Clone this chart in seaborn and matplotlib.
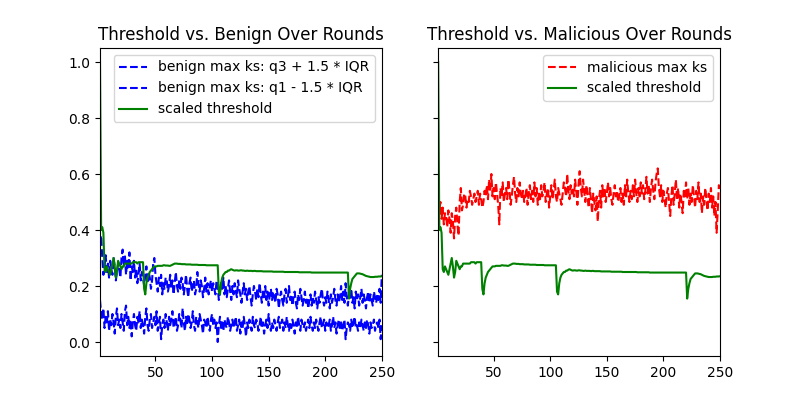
import numpy as np
import pandas as pd
import seaborn as sns
import matplotlib
matplotlib.use("Agg")
import matplotlib.pyplot as plt

# rounds 1..250
rounds = list(range(1, 251))

# scaled threshold (same in both panels)
threshold = [
    1.00, 0.40, 0.41, 0.39, 0.26, 0.25, 0.27, 0.26, 0.25, 0.24,
    0.26, 0.28, 0.30, 0.27, 0.23, 0.25, 0.29, 0.28, 0.27, 0.26,
    0.27, 0.27, 0.28, 0.28, 0.28, 0.28, 0.28, 0.28, 0.28, 0.285,
    0.285, 0.285, 0.285, 0.28, 0.285, 0.285, 0.285, 0.285, 0.285, 0.19,
    0.17, 0.21, 0.23, 0.24, 0.25, 0.255, 0.26, 0.265, 0.27, 0.27,
    0.27, 0.272, 0.272, 0.272, 0.272, 0.272, 0.274, 0.274, 0.273, 0.273,
    0.273, 0.272, 0.272, 0.274, 0.276, 0.278, 0.28, 0.28, 0.28, 0.279,
    0.279, 0.279, 0.278, 0.278, 0.278, 0.278, 0.277, 0.277, 0.277, 0.277,
    0.277, 0.276, 0.276, 0.276, 0.276, 0.276, 0.276, 0.275, 0.275, 0.275,
    0.275, 0.275, 0.275, 0.275, 0.274, 0.274, 0.274, 0.274, 0.274, 0.274,
    0.274, 0.274, 0.274, 0.274, 0.274, 0.18, 0.17, 0.21, 0.23, 0.24,
    0.245, 0.25, 0.25, 0.255, 0.255, 0.258, 0.26, 0.258, 0.256, 0.255,
    0.256, 0.256, 0.255, 0.255, 0.256, 0.256, 0.255, 0.255, 0.254, 0.254,
    0.255, 0.254, 0.254, 0.254, 0.254, 0.253, 0.254, 0.254, 0.253, 0.253,
    0.253, 0.253, 0.253, 0.253, 0.252, 0.252, 0.252, 0.252, 0.252, 0.252,
    0.252, 0.252, 0.252, 0.251, 0.251, 0.251, 0.251, 0.251, 0.251, 0.251,
    0.251, 0.251, 0.251, 0.25, 0.25, 0.25, 0.25, 0.25, 0.25, 0.25,
    0.25, 0.25, 0.25, 0.25, 0.25, 0.25, 0.249, 0.249, 0.249, 0.249,
    0.249, 0.249, 0.249, 0.249, 0.249, 0.249, 0.249, 0.248, 0.248, 0.248,
    0.248, 0.248, 0.248, 0.248, 0.248, 0.248, 0.248, 0.248, 0.248, 0.248,
    0.248, 0.248, 0.248, 0.248, 0.248, 0.248, 0.248, 0.248, 0.248, 0.248,
    0.248, 0.248, 0.248, 0.248, 0.248, 0.248, 0.248, 0.248, 0.248, 0.248,
    0.155, 0.19, 0.21, 0.225, 0.23, 0.235, 0.24, 0.245, 0.245, 0.245,
    0.244, 0.243, 0.242, 0.24, 0.238, 0.236, 0.235, 0.234, 0.233, 0.232,
    0.232, 0.232, 0.232, 0.233, 0.233, 0.233, 0.234, 0.234, 0.234, 0.235,
]

benign_upper = [
    0.35, 0.38, 0.30, 0.24, 0.27, 0.31, 0.25, 0.28, 0.23, 0.29,
    0.26, 0.24, 0.30, 0.27, 0.22, 0.25, 0.28, 0.26, 0.23, 0.30,
    0.33, 0.27, 0.31, 0.24, 0.29, 0.26, 0.32, 0.22, 0.27, 0.25,
    0.29, 0.23, 0.26, 0.21, 0.24, 0.28, 0.22, 0.25, 0.23, 0.20,
    0.24, 0.27, 0.21, 0.25, 0.23, 0.19, 0.22, 0.28, 0.30, 0.24,
    0.21, 0.18, 0.23, 0.20, 0.24, 0.17, 0.21, 0.19, 0.23, 0.22,
    0.18, 0.20, 0.24, 0.19, 0.22, 0.17, 0.21, 0.25, 0.20, 0.18,
    0.22, 0.19, 0.23, 0.21, 0.17, 0.20, 0.24, 0.19, 0.16, 0.21,
    0.23, 0.18, 0.20, 0.22, 0.17, 0.19, 0.25, 0.21, 0.18, 0.22,
    0.20, 0.16, 0.19, 0.23, 0.18, 0.21, 0.17, 0.20, 0.22, 0.18,
    0.21, 0.19, 0.17, 0.22, 0.20, 0.15, 0.18, 0.21, 0.19, 0.23,
    0.17, 0.20, 0.16, 0.19, 0.22, 0.18, 0.15, 0.20, 0.17, 0.21,
    0.18, 0.16, 0.22, 0.19, 0.17, 0.14, 0.18, 0.21, 0.17, 0.19,
    0.15, 0.18, 0.20, 0.16, 0.13, 0.17, 0.20, 0.18, 0.15, 0.19,
    0.16, 0.21, 0.17, 0.14, 0.18, 0.16, 0.20, 0.15, 0.18, 0.13,
    0.17, 0.19, 0.15, 0.18, 0.16, 0.14, 0.19, 0.17, 0.12, 0.16,
    0.18, 0.15, 0.13, 0.17, 0.19, 0.14, 0.16, 0.20, 0.15, 0.17,
    0.13, 0.16, 0.18, 0.14, 0.12, 0.17, 0.15, 0.19, 0.16, 0.13,
    0.15, 0.18, 0.14, 0.16, 0.12, 0.15, 0.17, 0.13, 0.16, 0.14,
    0.18, 0.15, 0.12, 0.16, 0.14, 0.17, 0.19, 0.15, 0.13, 0.16,
    0.14, 0.18, 0.15, 0.12, 0.17, 0.14, 0.16, 0.19, 0.15, 0.13,
    0.17, 0.14, 0.16, 0.20, 0.15, 0.18, 0.14, 0.21, 0.16, 0.13,
    0.17, 0.15, 0.19, 0.14, 0.16, 0.12, 0.18, 0.15, 0.17, 0.13,
    0.16, 0.19, 0.14, 0.17, 0.15, 0.12, 0.16, 0.18, 0.14, 0.17,
    0.15, 0.13, 0.18, 0.16, 0.14, 0.17, 0.15, 0.19, 0.14, 0.24,
]

benign_lower = [
    0.15, 0.10, 0.08, 0.12, 0.05, 0.09, 0.07, 0.11, 0.04, 0.08,
    0.06, 0.10, 0.07, 0.03, 0.09, 0.12, 0.06, 0.08, 0.05, 0.10,
    0.07, 0.04, 0.11, 0.13, 0.06, 0.09, 0.05, 0.08, 0.02, 0.07,
    0.10, 0.06, 0.04, 0.09, 0.07, 0.11, 0.05, 0.08, 0.06, 0.03,
    0.09, 0.12, 0.06, 0.04, 0.08, 0.10, 0.05, 0.07, 0.09, 0.06,
    0.11, 0.04, 0.07, 0.09, 0.01, 0.06, 0.08, 0.05, 0.10, 0.07,
    0.04, 0.09, 0.06, 0.08, 0.11, 0.05, 0.07, 0.09, 0.04, 0.06,
    0.10, 0.08, 0.05, 0.12, 0.07, 0.04, 0.09, 0.06, 0.10, 0.08,
    0.05, 0.07, 0.11, 0.06, 0.04, 0.09, 0.07, 0.05, 0.10, 0.08,
    0.06, 0.03, 0.08, 0.07, 0.05, 0.09, 0.06, 0.04, 0.08, 0.10,
    0.06, 0.08, 0.05, 0.07, 0.00, 0.06, 0.09, 0.05, 0.07, 0.04,
    0.08, 0.06, 0.05, 0.09, 0.07, 0.04, 0.06, 0.08, 0.05, 0.07,
    0.09, 0.04, 0.06, 0.08, 0.03, 0.07, 0.05, 0.09, 0.06, 0.02,
    0.07, 0.05, 0.08, 0.06, 0.04, 0.09, 0.06, 0.05, 0.08, 0.07,
    0.04, 0.06, 0.09, 0.05, 0.07, 0.03, 0.06, 0.08, 0.05, 0.10,
    0.06, 0.04, 0.07, 0.05, 0.08, 0.06, 0.04, 0.07, 0.09, 0.05,
    0.06, 0.08, 0.04, 0.07, 0.05, 0.09, 0.06, 0.04, 0.07, 0.05,
    0.08, 0.06, 0.03, 0.07, 0.05, 0.09, 0.06, 0.04, 0.08, 0.06,
    0.05, 0.07, 0.04, 0.06, 0.08, 0.05, 0.09, 0.06, 0.04, 0.07,
    0.05, 0.08, 0.06, 0.04, 0.07, 0.09, 0.05, 0.06, 0.08, 0.04,
    0.07, 0.05, 0.06, 0.08, 0.04, 0.06, 0.09, 0.05, 0.07, 0.03,
    0.06, 0.08, 0.05, 0.07, 0.04, 0.06, 0.08, 0.01, 0.05, 0.07,
    0.06, 0.04, 0.08, 0.05, 0.07, 0.09, 0.05, 0.06, 0.04, 0.07,
    0.05, 0.08, 0.06, 0.04, 0.07, 0.05, 0.08, 0.06, 0.03, 0.07,
    0.05, 0.06, 0.08, 0.04, 0.06, 0.07, 0.05, 0.08, 0.01, 0.06,
]

malicious = [
    0.40, 0.47, 0.50, 0.44, 0.48, 0.42, 0.46, 0.45, 0.41, 0.47,
    0.44, 0.39, 0.46, 0.43, 0.37, 0.45, 0.48, 0.42, 0.38, 0.50,
    0.55, 0.47, 0.49, 0.53, 0.52, 0.48, 0.51, 0.50, 0.54, 0.52,
    0.49, 0.51, 0.53, 0.50, 0.52, 0.54, 0.49, 0.53, 0.51, 0.48,
    0.50, 0.54, 0.52, 0.56, 0.51, 0.58, 0.54, 0.60, 0.52, 0.55,
    0.51, 0.57, 0.53, 0.49, 0.42, 0.55, 0.52, 0.57, 0.50, 0.53,
    0.55, 0.51, 0.58, 0.54, 0.49, 0.52, 0.56, 0.59, 0.53, 0.50,
    0.55, 0.52, 0.57, 0.53, 0.51, 0.54, 0.50, 0.52, 0.55, 0.49,
    0.53, 0.56, 0.51, 0.54, 0.50, 0.57, 0.52, 0.55, 0.49, 0.53,
    0.51, 0.56, 0.52, 0.54, 0.57, 0.50, 0.53, 0.55, 0.48, 0.52,
    0.56, 0.51, 0.54, 0.58, 0.52, 0.50, 0.55, 0.53, 0.51, 0.49,
    0.53, 0.57, 0.55, 0.52, 0.60, 0.54, 0.51, 0.56, 0.53, 0.55,
    0.52, 0.58, 0.54, 0.49, 0.56, 0.61, 0.55, 0.52, 0.58, 0.54,
    0.50, 0.56, 0.52, 0.48, 0.55, 0.51, 0.46, 0.53, 0.50, 0.47,
    0.52, 0.43, 0.51, 0.54, 0.48, 0.56, 0.52, 0.55, 0.50, 0.53,
    0.57, 0.52, 0.55, 0.51, 0.49, 0.53, 0.56, 0.52, 0.54, 0.50,
    0.52, 0.55, 0.50, 0.53, 0.49, 0.56, 0.52, 0.58, 0.53, 0.50,
    0.54, 0.51, 0.56, 0.52, 0.58, 0.53, 0.50, 0.55, 0.52, 0.57,
    0.53, 0.56, 0.51, 0.54, 0.59, 0.53, 0.56, 0.50, 0.55, 0.58,
    0.54, 0.51, 0.57, 0.60, 0.62, 0.55, 0.52, 0.56, 0.50, 0.54,
    0.51, 0.48, 0.53, 0.55, 0.50, 0.45, 0.52, 0.56, 0.49, 0.53,
    0.58, 0.51, 0.55, 0.48, 0.53, 0.50, 0.46, 0.54, 0.52, 0.57,
    0.51, 0.55, 0.49, 0.53, 0.50, 0.56, 0.52, 0.48, 0.54, 0.51,
    0.57, 0.50, 0.53, 0.46, 0.52, 0.49, 0.55, 0.51, 0.47, 0.53,
    0.50, 0.55, 0.48, 0.52, 0.45, 0.50, 0.39, 0.47, 0.56, 0.54,
]

df = pd.DataFrame({
    "round": rounds,
    "threshold": threshold,
    "upper": benign_upper,
    "lower": benign_lower,
    "malicious": malicious,
})

fig, (ax1, ax2) = plt.subplots(1, 2, figsize=(8, 4), dpi=100, sharey=True)

# left panel: benign bounds vs threshold
sns.lineplot(data=df, x="round", y="upper", ax=ax1, color="blue",
             linestyle="--", label="benign max ks: q3 + 1.5 * IQR")
sns.lineplot(data=df, x="round", y="lower", ax=ax1, color="blue",
             linestyle="--", label="benign max ks: q1 - 1.5 * IQR")
sns.lineplot(data=df, x="round", y="threshold", ax=ax1, color="green",
             label="scaled threshold")
ax1.set_title("Threshold vs. Benign Over Rounds")

# right panel: malicious vs threshold
sns.lineplot(data=df, x="round", y="malicious", ax=ax2, color="red",
             linestyle="--", label="malicious max ks")
sns.lineplot(data=df, x="round", y="threshold", ax=ax2, color="green",
             label="scaled threshold")
ax2.set_title("Threshold vs. Malicious Over Rounds")

for ax in (ax1, ax2):
    ax.set_xlim(1, 250)
    ax.set_ylim(-0.05, 1.05)
    ax.set_xlabel("")
    ax.set_ylabel("")
    ax.set_xticks([50, 100, 150, 200, 250])
    ax.legend(loc="upper right")
ax1.set_yticks([0.0, 0.2, 0.4, 0.6, 0.8, 1.0])

plt.subplots_adjust(left=0.125, right=0.9, bottom=0.11, top=0.88, wspace=0.2)
plt.savefig("out.png")
